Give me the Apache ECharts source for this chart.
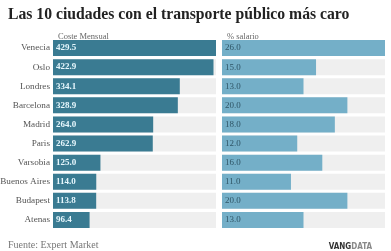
<!DOCTYPE html>
<html><head><meta charset="utf-8">
<script src="https://cdn.jsdelivr.net/npm/echarts@6/dist/echarts.min.js"></script>
<style>html,body{margin:0;padding:0;background:#fff}#c{width:391px;height:251px}</style>
</head><body><div id="c"></div>
<script>
const cities = ['Venecia','Oslo','Londres','Barcelona','Madrid','Paris','Varsobia','Buenos Aires','Budapest','Atenas'];
const costeMensual = [429.5, 422.9, 334.1, 328.9, 264.0, 262.9, 125.0, 114.0, 113.8, 96.4];
const pctSalario = [26.0, 15.0, 13.0, 20.0, 18.0, 12.0, 16.0, 11.0, 20.0, 13.0];

const serif = '"Liberation Serif", "DejaVu Serif", serif';
const chart = echarts.init(document.getElementById('c'), null, {renderer:'canvas'});
chart.setOption({
  animation:false,
  title:[
    {text:'Las 10 ciudades con el transporte público más caro', left:3, top:2,
     textStyle:{fontFamily:serif, fontWeight:'bold', fontSize:15.7, color:'#222'}},
    {text:'Coste Mensual', left:53, top:27, textStyle:{fontFamily:serif, fontWeight:'normal', fontSize:8.5, color:'#666'}},
    {text:'% salario', left:222, top:27, textStyle:{fontFamily:serif, fontWeight:'normal', fontSize:8.5, color:'#666'}},
    {text:'Fuente: Expert Market', left:3, top:235, textStyle:{fontFamily:serif, fontWeight:'normal', fontSize:10, color:'#777'}},
    {text:'{a|VANG}{b|DATA}', right:14, top:238,
     textStyle:{rich:{
       a:{fontFamily:'"DejaVu Sans Condensed", sans-serif', fontWeight:'bold', fontSize:8, color:'#333'},
       b:{fontFamily:'"DejaVu Sans Condensed", sans-serif', fontWeight:'bold', fontSize:8, color:'#888'}}}}
  ],
  grid:[
    {left:53, right:175, top:38.5, height:191, outerBoundsMode:'none', containLabel:false},
    {left:222, right:6, top:38.5, height:191, outerBoundsMode:'none', containLabel:false}
  ],
  xAxis:[
    {gridIndex:0, type:'value', min:0, max:429.5, show:false},
    {gridIndex:1, type:'value', min:0, max:26, show:false}
  ],
  yAxis:[
    {gridIndex:0, type:'category', data:cities, inverse:true,
     axisLine:{show:false}, axisTick:{show:false},
     axisLabel:{fontFamily:serif, fontSize:9.2, color:'#555', margin:3}},
    {gridIndex:1, type:'category', data:cities, inverse:true, show:false}
  ],
  series:[
    {type:'bar', xAxisIndex:0, yAxisIndex:0, data:costeMensual, barWidth:16,
     itemStyle:{color:'#3a7b92'},
     showBackground:true, backgroundStyle:{color:'#efefef'},
     label:{show:true, position:'insideLeft', offset:[-2,0], formatter:p=>p.value.toFixed(1),
            fontFamily:serif, fontWeight:'bold', fontSize:9, color:'#e6f7fd'}},
    {type:'bar', xAxisIndex:1, yAxisIndex:1, data:pctSalario, barWidth:16,
     itemStyle:{color:'#74afc8'},
     showBackground:true, backgroundStyle:{color:'#efefef'},
     label:{show:true, position:'insideLeft', offset:[-2,0], formatter:p=>p.value.toFixed(1),
            fontFamily:serif, fontSize:9, color:'#2f5566'}}
  ]
});
</script></body></html>
